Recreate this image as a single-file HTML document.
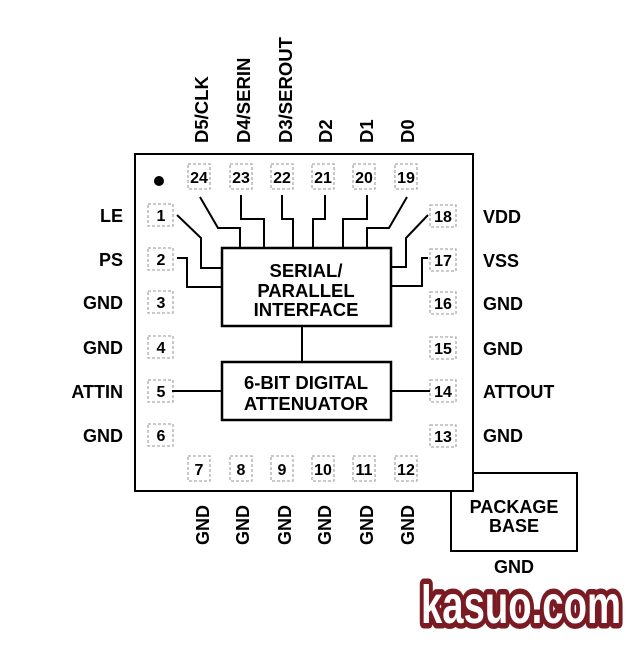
<!DOCTYPE html>
<html><head><style>
html,body{margin:0;padding:0;background:#fff;}
svg text{font-family:"Liberation Sans",Arial,sans-serif;font-weight:bold;}
</style></head><body>
<svg width="640" height="640" viewBox="0 0 640 640" xmlns="http://www.w3.org/2000/svg">
<rect x="0" y="0" width="640" height="640" fill="#fff"/>
<rect x="451" y="473" width="126" height="78" fill="#fff" stroke="#000" stroke-width="2"/>
<text x="514" y="513" font-size="18" text-anchor="middle">PACKAGE</text>
<text x="514" y="532" font-size="18" text-anchor="middle">BASE</text>
<text x="514" y="573" font-size="18" text-anchor="middle">GND</text>
<rect x="135" y="154" width="338" height="337" fill="#fff" stroke="#000" stroke-width="2"/>
<circle cx="159" cy="181" r="5" fill="#000"/>
<g fill="none" stroke="#aaa" stroke-width="1.3" stroke-dasharray="3,2">
<rect x="188" y="164" width="22" height="25"/>
<rect x="230" y="164" width="22" height="25"/>
<rect x="271" y="164" width="22" height="25"/>
<rect x="312" y="164" width="22" height="25"/>
<rect x="353" y="164" width="22" height="25"/>
<rect x="395" y="164" width="22" height="25"/>
<rect x="188" y="456" width="22" height="25"/>
<rect x="230" y="456" width="22" height="25"/>
<rect x="271" y="456" width="22" height="25"/>
<rect x="312" y="456" width="22" height="25"/>
<rect x="353" y="456" width="22" height="25"/>
<rect x="395" y="456" width="22" height="25"/>
<rect x="148" y="204" width="25" height="22"/>
<rect x="148" y="248" width="25" height="22"/>
<rect x="148" y="291" width="25" height="22"/>
<rect x="148" y="336" width="25" height="22"/>
<rect x="148" y="380" width="25" height="22"/>
<rect x="148" y="424" width="25" height="22"/>
<rect x="430" y="205" width="26" height="22"/>
<rect x="430" y="249" width="26" height="22"/>
<rect x="430" y="292" width="26" height="22"/>
<rect x="430" y="337" width="26" height="22"/>
<rect x="430" y="380" width="26" height="22"/>
<rect x="430" y="425" width="26" height="22"/>
</g>
<g font-size="16" text-anchor="middle">
<text x="199" y="183">24</text><text x="241" y="183">23</text><text x="282" y="183">22</text>
<text x="323" y="183">21</text><text x="364" y="183">20</text><text x="406" y="183">19</text>
<text x="199" y="475">7</text><text x="241" y="475">8</text><text x="282" y="475">9</text>
<text x="323" y="475">10</text><text x="364" y="475">11</text><text x="406" y="475">12</text>
<text x="161" y="221">1</text><text x="161" y="265">2</text><text x="161" y="308">3</text>
<text x="161" y="353">4</text><text x="161" y="397">5</text><text x="161" y="441">6</text>
<text x="443" y="222">18</text><text x="443" y="266">17</text><text x="443" y="309">16</text>
<text x="443" y="354">15</text><text x="443" y="397">14</text><text x="443" y="442">13</text>
</g>
<g fill="none" stroke="#000" stroke-width="2">
<polyline points="177,215 201,238 201,268 222,268"/>
<polyline points="177,258 187,258 187,287 222,287"/>
<polyline points="200,197 218,228 240,228 240,248"/>
<polyline points="241,195 241,219 264,219 264,248"/>
<polyline points="282,195 282,219 293,219 293,248"/>
<polyline points="325,195 325,219 313,219 313,248"/>
<polyline points="367,195 367,219 343,219 343,248"/>
<polyline points="407,197 389,228 367,228 367,248"/>
<polyline points="428,215 406,238 406,267 391,267"/>
<polyline points="428,258 422,258 422,286 391,286"/>
<line x1="302" y1="326" x2="302" y2="362"/>
<line x1="172" y1="391" x2="222" y2="391"/>
<line x1="391" y1="391" x2="430" y2="391"/>
</g>
<rect x="222" y="248" width="169" height="78" fill="#fff" stroke="#000" stroke-width="2.5"/>
<text x="306" y="277" font-size="18.5" text-anchor="middle">SERIAL/</text>
<text x="306" y="297" font-size="18.5" text-anchor="middle">PARALLEL</text>
<text x="306" y="316" font-size="18.5" text-anchor="middle">INTERFACE</text>
<rect x="222" y="362" width="169" height="58" fill="#fff" stroke="#000" stroke-width="2.5"/>
<text x="306" y="389" font-size="18.5" text-anchor="middle">6-BIT DIGITAL</text>
<text x="306" y="410" font-size="18.5" text-anchor="middle">ATTENUATOR</text>
<g font-size="18" text-anchor="end">
<text x="123" y="222">LE</text><text x="123" y="266">PS</text><text x="123" y="309">GND</text>
<text x="123" y="354">GND</text><text x="123" y="398">ATTIN</text><text x="123" y="442">GND</text>
</g>
<g font-size="18">
<text x="483" y="223">VDD</text><text x="483" y="267">VSS</text><text x="483" y="310">GND</text>
<text x="483" y="355">GND</text><text x="483" y="398">ATTOUT</text><text x="483" y="442">GND</text>
</g>
<g font-size="18.5">
<text transform="translate(208,143) rotate(-90)">D5/CLK</text>
<text transform="translate(250,143) rotate(-90)">D4/SERIN</text>
<text transform="translate(292,143) rotate(-90)">D3/SEROUT</text>
<text transform="translate(332,143) rotate(-90)">D2</text>
<text transform="translate(373,143) rotate(-90)">D1</text>
<text transform="translate(414,143) rotate(-90)">D0</text>
</g>
<g font-size="18" text-anchor="end">
<text transform="translate(209,505) rotate(-90)">GND</text>
<text transform="translate(249,505) rotate(-90)">GND</text>
<text transform="translate(291,505) rotate(-90)">GND</text>
<text transform="translate(331,505) rotate(-90)">GND</text>
<text transform="translate(373,505) rotate(-90)">GND</text>
<text transform="translate(414,505) rotate(-90)">GND</text>
</g>
<text x="521" y="623" font-size="54" text-anchor="middle" fill="#fff" stroke="#7a1a22" stroke-width="11" stroke-linejoin="round" paint-order="stroke" textLength="200" lengthAdjust="spacingAndGlyphs" style="font-family:'Liberation Sans Narrow','Liberation Sans',sans-serif">kasuo.com</text>
</svg>
</body></html>
